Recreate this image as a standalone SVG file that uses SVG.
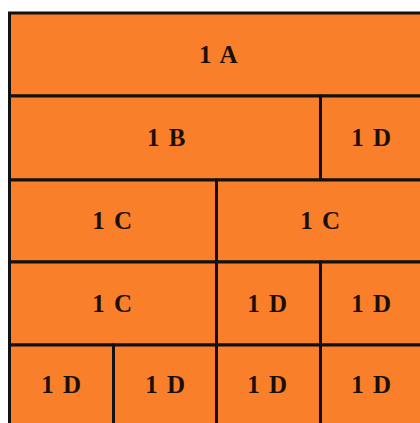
<svg xmlns="http://www.w3.org/2000/svg" width="420" height="423" viewBox="0 0 420 423">
<style>
.cell{fill:#FA7F2A;stroke:#111;stroke-width:3}
.t{font-family:"Liberation Serif","Times New Roman",serif;font-weight:bold;font-size:25px;fill:#1a1008;text-anchor:middle;letter-spacing:1.5px}
</style>
<rect width="420" height="423" fill="#fff"/>
<g id="a1"><rect class="cell" x="9.5" y="13" width="413" height="83"/><text class="t" x="219" y="63">1 A</text></g>
<g id="b1"><rect class="cell" x="9.5" y="96" width="311" height="84"/><text class="t" x="167" y="146">1 B</text></g>
<g id="d1"><rect class="cell" x="320.5" y="96" width="102" height="84"/><text class="t" x="372" y="146">1 D</text></g>
<g id="c1"><rect class="cell" x="9.5" y="180" width="207" height="82"/><text class="t" x="113" y="229">1 C</text></g>
<g id="c2"><rect class="cell" x="216.5" y="180" width="206" height="82"/><text class="t" x="321" y="229">1 C</text></g>
<g id="c3"><rect class="cell" x="9.5" y="262" width="207" height="83"/><text class="t" x="113" y="312">1 C</text></g>
<g id="d2"><rect class="cell" x="216.5" y="262" width="104" height="83"/><text class="t" x="268" y="312">1 D</text></g>
<g id="d3"><rect class="cell" x="320.5" y="262" width="102" height="83"/><text class="t" x="372" y="312">1 D</text></g>
<g id="d4"><rect class="cell" x="9.5" y="345" width="104" height="84"/><text class="t" x="62" y="393">1 D</text></g>
<g id="d5"><rect class="cell" x="113.5" y="345" width="103" height="84"/><text class="t" x="166" y="393">1 D</text></g>
<g id="d6"><rect class="cell" x="216.5" y="345" width="104" height="84"/><text class="t" x="268" y="393">1 D</text></g>
<g id="d7"><rect class="cell" x="320.5" y="345" width="102" height="84"/><text class="t" x="372" y="393">1 D</text></g>
<g id="connectors"/>
</svg>
